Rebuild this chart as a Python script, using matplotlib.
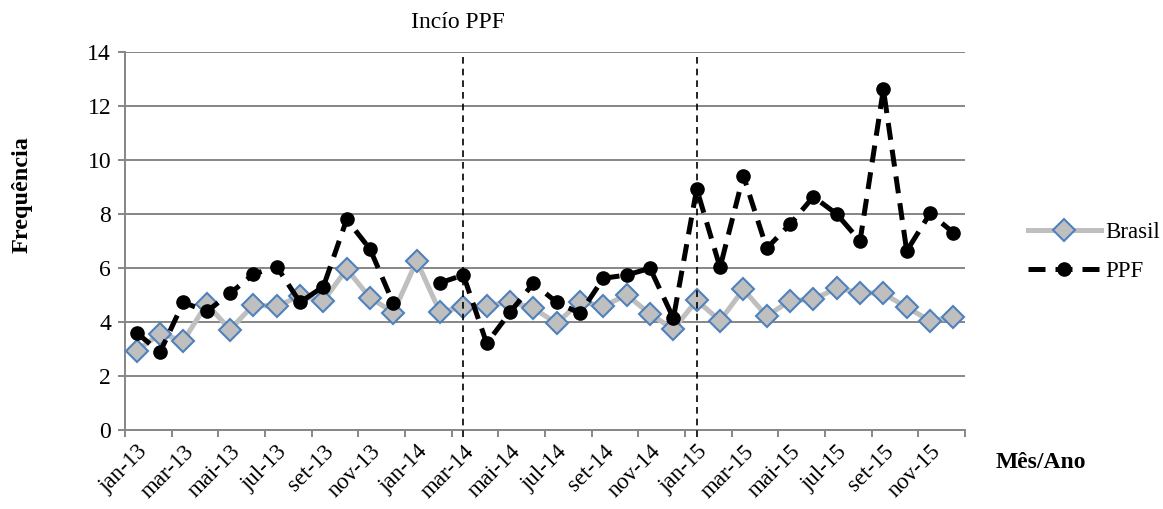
import numpy as np
import matplotlib
matplotlib.use("Agg")
import matplotlib.pyplot as plt

plt.rcParams['font.family'] = ['Liberation Serif', 'DejaVu Serif']

# dados mensais jan-13 .. dez-15
meses = ["jan-13", "fev-13", "mar-13", "abr-13", "mai-13", "jun-13",
         "jul-13", "ago-13", "set-13", "out-13", "nov-13", "dez-13",
         "jan-14", "fev-14", "mar-14", "abr-14", "mai-14", "jun-14",
         "jul-14", "ago-14", "set-14", "out-14", "nov-14", "dez-14",
         "jan-15", "fev-15", "mar-15", "abr-15", "mai-15", "jun-15",
         "jul-15", "ago-15", "set-15", "out-15", "nov-15", "dez-15"]

brasil = [2.93, 3.57, 3.30, 4.67, 3.72, 4.63, 4.58, 4.97, 4.78, 5.96, 4.90, 4.35,
          6.26, 4.36, 4.57, 4.59, 4.75, 4.51, 3.95, 4.75, 4.59, 5.00, 4.30, 3.73,
          4.80, 4.05, 5.21, 4.22, 4.79, 4.84, 5.25, 5.09, 5.06, 4.54, 4.05, 4.17]

ppf = [3.60, 2.88, 4.73, 4.39, 5.06, 5.77, 6.05, 4.73, 5.31, 7.80, 6.70, 4.69,
       np.nan, 5.45, 5.74, 3.21, 4.36, 5.43, 4.73, 4.32, 5.62, 5.74, 5.99, 4.14,
       8.93, 6.02, 9.42, 6.73, 7.62, 8.64, 8.00, 7.00, 12.62, 6.63, 8.02, 7.31]

# marcos verticais (indices dos meses)
marcos = [14, 24]

x = np.arange(len(meses))

fig = plt.figure(figsize=(11.63, 5.09), dpi=100)
ax = fig.add_axes([0.1075, 0.1552, 0.7223, 0.7426])

grid_col = "#868686"
ax.set_ylim(0, 14)
ax.set_xlim(-0.5, len(meses) - 0.5)
ax.set_yticks(np.arange(0, 15, 2))
for yv in np.arange(2, 15, 2):
    ax.axhline(yv, color=grid_col, lw=1.4, zorder=0)

ax.plot(x, brasil, color="#BFBFBF", lw=3.6, marker="D", ms=11,
        mfc="#BFBFBF", mec="#4F81BD", mew=1.5, label="Brasil", zorder=3)
ax.plot(x, ppf, color="black", lw=3.6, dashes=(3.4, 2.0), marker="o", ms=9.5,
        mfc="black", mec="black", label="PPF", zorder=4)

for m in marcos:
    ax.plot([m, m], [-0.25, 14], color="black", lw=1.2, dashes=(4, 3),
            clip_on=False, zorder=5)

# eixos
for s in ["top", "right"]:
    ax.spines[s].set_visible(False)
for s in ["left", "bottom"]:
    ax.spines[s].set_color(grid_col)
    ax.spines[s].set_linewidth(1.4)

ax.set_xticks(np.arange(-0.5, len(meses), 2))
ax.set_xticklabels([])
ax.set_xticks(x[::2], minor=True)
ax.set_xticklabels(meses[::2], minor=True, rotation=45, ha="right",
                   va="top", rotation_mode="anchor", fontsize=16.5)
ax.tick_params(axis="x", which="major", length=5, width=1.4, color=grid_col)
ax.tick_params(axis="x", which="minor", length=0, pad=8)
ax.tick_params(axis="y", length=5, width=1.4, color=grid_col, labelsize=17, pad=5)

fig.text(458 / 1163, 1 - 22 / 509, "Incío PPF", ha="center", va="center", fontsize=17)
fig.text(22 / 1163, 1 - 195 / 509, "Frequência", rotation=90, ha="center",
         va="center", fontsize=17.5, fontweight="bold")
fig.text(1041 / 1163, 1 - 462 / 509, "Mês/Ano", ha="center", va="center",
         fontsize=17, fontweight="bold")

ax.legend(loc="center left", bbox_to_anchor=(1.05, 0.471), frameon=False,
          fontsize=16.5, handlelength=3.2, labelspacing=0.75, handletextpad=0.2)

fig.savefig("out.png", dpi=100)
